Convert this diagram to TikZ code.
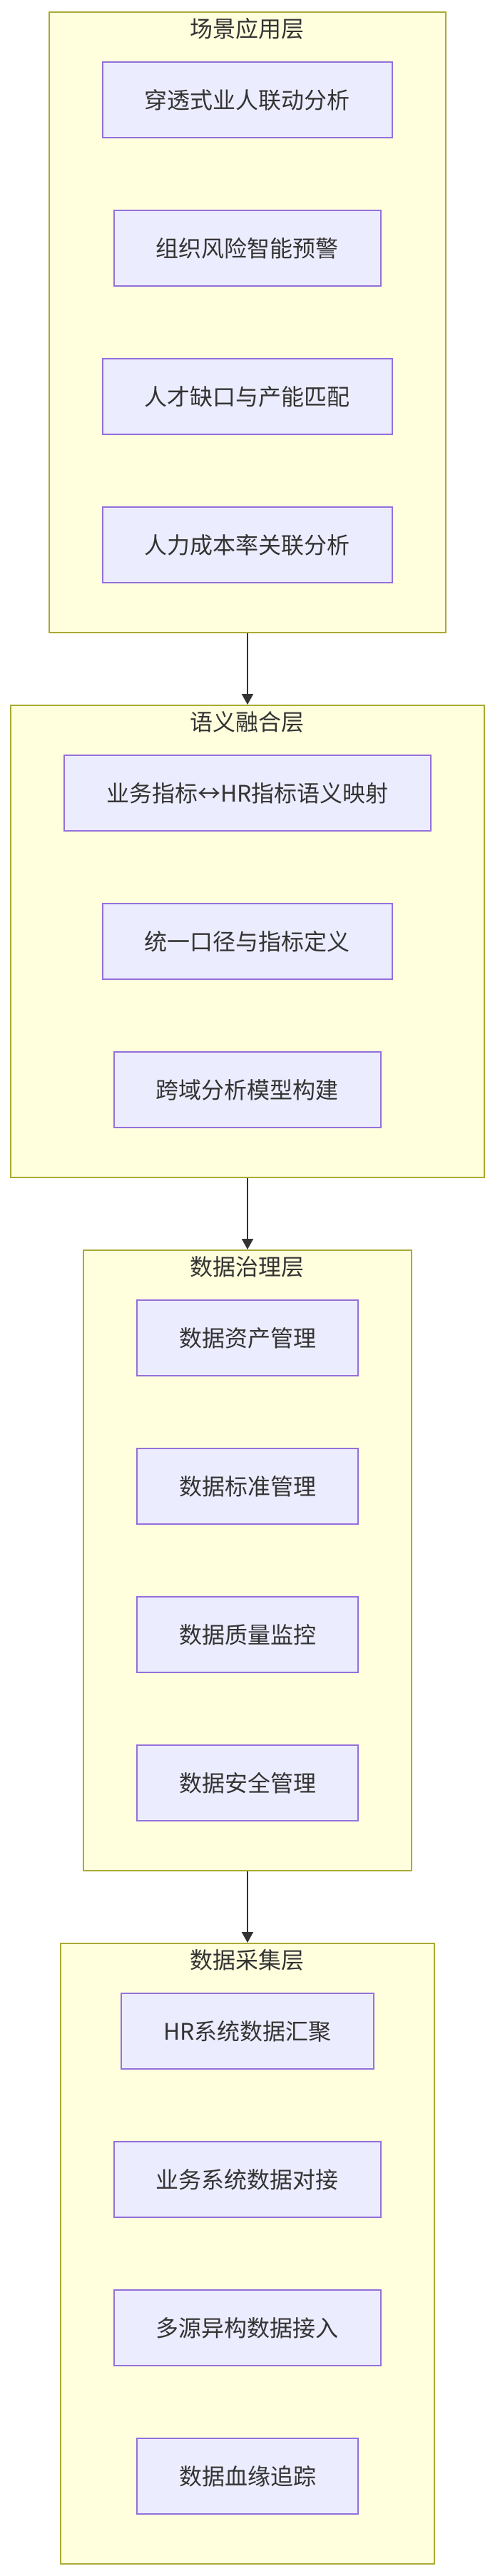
\documentclass[tikz,border=0pt]{standalone}
\usepackage{fontspec}
\usepackage{tikz}
\usetikzlibrary{arrows.meta, positioning, fit, backgrounds}
\newfontfamily\cjk{Noto Sans CJK SC}
\definecolor{laybg}{HTML}{FFFFDE}
\definecolor{layborder}{HTML}{AAAA33}
\definecolor{itembg}{HTML}{ECECFF}
\definecolor{itemborder}{HTML}{9370DB}
\definecolor{ink}{HTML}{333333}

\begin{document}
\begin{tikzpicture}[
  node distance=50pt,
  item/.style={rectangle, draw=itemborder, fill=itembg, line width=1pt, minimum height=53pt, inner xsep=29.5pt, font=\cjk\fontsize{16}{19}\selectfont, text=ink},
  layer/.style={rectangle, draw=layborder, fill=laybg, line width=1pt, inner xsep=37pt, inner ysep=34.5pt},
  ttl/.style={font=\cjk\fontsize{16}{19}\selectfont, text=ink},
  arr/.style={-{Triangle[length=7.5pt, width=8pt]}, color=ink, line width=1pt}
]
\useasboundingbox (-173.5pt,70pt) rectangle (173pt,-1736pt);

% scene layer
\node[item] (app1) {穿透式业人联动分析};
\node[item, below=of app1] (app2) {组织风险智能预警};
\node[item, below=of app2] (app3) {人才缺口与产能匹配};
\node[item, below=of app3] (app4) {人力成本率关联分析};

% semantic layer
\node[item, below=120pt of app4] (sem1) {业务指标↔HR指标语义映射};
\node[item, below=of sem1] (sem2) {统一口径与指标定义};
\node[item, below=of sem2] (sem3) {跨域分析模型构建};

% governance layer
\node[item, below=120pt of sem3] (gov1) {数据资产管理};
\node[item, below=of gov1] (gov2) {数据标准管理};
\node[item, below=of gov2] (gov3) {数据质量监控};
\node[item, below=of gov3] (gov4) {数据安全管理};

% collection layer
\node[item, below=120pt of gov4] (col1) {HR系统数据汇聚};
\node[item, below=of col1] (col2) {业务系统数据对接};
\node[item, below=of col2] (col3) {多源异构数据接入};
\node[item, below=of col3] (col4) {数据血缘追踪};

\begin{scope}[on background layer]
\node[layer, fit=(app1)(app2)(app3)(app4)] (appL) {};
\node[layer, fit=(sem1)(sem2)(sem3)] (semL) {};
\node[layer, fit=(gov1)(gov2)(gov3)(gov4)] (govL) {};
\node[layer, fit=(col1)(col2)(col3)(col4)] (colL) {};
\end{scope}

\node[ttl] (appT) at ([yshift=-12pt]appL.north) {场景应用层};
\node[ttl] (semT) at ([yshift=-12pt]semL.north) {语义融合层};
\node[ttl] (govT) at ([yshift=-12pt]govL.north) {数据治理层};
\node[ttl] (colT) at ([yshift=-12pt]colL.north) {数据采集层};

\draw[arr] (appL) -- (semL);
\draw[arr] (semL) -- (govL);
\draw[arr] (govL) -- (colL);

\end{tikzpicture}
\end{document}
